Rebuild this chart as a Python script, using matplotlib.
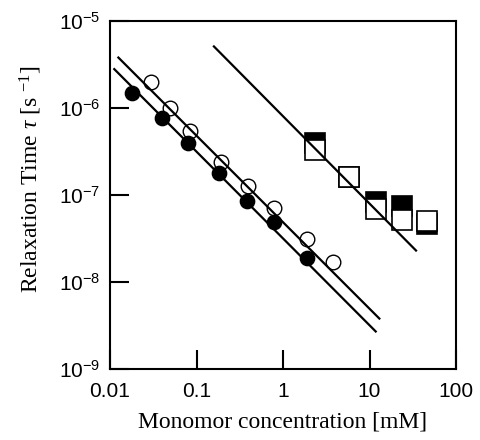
import matplotlib
matplotlib.use("Agg")
import matplotlib.pyplot as plt
from matplotlib.ticker import FixedLocator, FixedFormatter, NullLocator

# ---- data ----
filled_circle_x = [0.018, 0.04, 0.08, 0.18, 0.38, 0.78, 1.9]
filled_circle_y = [1.5e-6, 7.6e-7, 4.0e-7, 1.8e-7, 8.5e-8, 4.9e-8, 1.9e-8]

open_circle_x = [0.03, 0.05, 0.085, 0.19, 0.39, 0.78, 1.9, 3.8]
open_circle_y = [2.0e-6, 1.0e-6, 5.4e-7, 2.4e-7, 1.27e-7, 7.1e-8, 3.1e-8, 1.7e-8]

square_x = [2.34, 5.84, 11.8, 23.5, 46.5]
square_filled_y = [4.0e-7, 1.6e-7, 8.4e-8, 7.5e-8, 4.6e-8]
square_open_y = [3.3e-7, 1.6e-7, 6.9e-8, 5.2e-8, 5.05e-8]

fit_open_x = [0.0125, 13.0]
fit_open_y = [3.8e-6, 3.8e-9]
fit_filled_x = [0.0112, 11.8]
fit_filled_y = [2.8e-6, 2.7e-9]
fit_square_x = [0.159, 34.5]
fit_square_y = [5.1e-6, 2.3e-8]

x_ticks = [0.01, 0.1, 1, 10, 100]
x_tick_labels = ["0.01", "0.1", "1", "10", "100"]
y_ticks = [1e-9, 1e-8, 1e-7, 1e-6, 1e-5]
y_tick_labels = [r"$\mathsf{10^{-9}}$", r"$\mathsf{10^{-8}}$", r"$\mathsf{10^{-7}}$",
                 r"$\mathsf{10^{-6}}$", r"$\mathsf{10^{-5}}$"]

x_label = "Monomor concentration [mM]"
y_label = r"Relaxation Time $\tau$ [s $^{-1}$]"

# ---- styling ----
plt.rcParams["mathtext.fontset"] = "custom"
plt.rcParams["mathtext.rm"] = "Liberation Serif"
plt.rcParams["mathtext.it"] = "Liberation Serif:italic"
plt.rcParams["mathtext.bf"] = "Liberation Serif:bold"
plt.rcParams["mathtext.sf"] = "Liberation Sans"

fig = plt.figure(figsize=(4.8, 4.4), dpi=100)
ax = fig.add_axes([110 / 480, 1 - 369 / 440, 346 / 480, 348 / 440])
ax.set_xscale("log")
ax.set_yscale("log")
ax.set_xlim(0.01, 100)
ax.set_ylim(1e-9, 1e-5)

# squares: filled behind, open (white) on top
ax.plot(square_x, square_filled_y, "s", ms=14, mfc="black", mec="black", mew=1.2, zorder=1, ls="none")
ax.plot(square_x, square_open_y, "s", ms=14, mfc="white", mec="black", mew=1.2, zorder=1.5, ls="none")

# fit lines
for fx, fy in [(fit_open_x, fit_open_y), (fit_filled_x, fit_filled_y), (fit_square_x, fit_square_y)]:
    ax.plot(fx, fy, "-", color="black", lw=1.6, zorder=2)

# circles
ax.plot(open_circle_x, open_circle_y, "o", ms=10.5, mfc="none", mec="black", mew=1.0, zorder=3, ls="none")
ax.plot(filled_circle_x, filled_circle_y, "o", ms=10.3, mfc="black", mec="black", mew=1.0, zorder=3, ls="none")

# axes formatting
for s in ax.spines.values():
    s.set_linewidth(1.5)
ax.xaxis.set_major_locator(FixedLocator(x_ticks))
ax.xaxis.set_major_formatter(FixedFormatter(x_tick_labels))
ax.yaxis.set_major_locator(FixedLocator(y_ticks))
ax.yaxis.set_major_formatter(FixedFormatter(y_tick_labels))
ax.xaxis.set_minor_locator(NullLocator())
ax.yaxis.set_minor_locator(NullLocator())
ax.tick_params(which="major", direction="in", length=14, width=1.5,
               top=False, right=False, labelsize=15, pad=7)
for lab in ax.get_xticklabels() + ax.get_yticklabels():
    lab.set_family("Liberation Sans")
ax.tick_params(axis="x", pad=9)

ax.set_xlabel(x_label, family="Liberation Serif", fontsize=17, labelpad=8)
ax.set_ylabel(y_label, family="Liberation Serif", fontsize=17)
ax.yaxis.set_label_coords(-0.19, 0.545)

fig.savefig("out.png", dpi=100)
